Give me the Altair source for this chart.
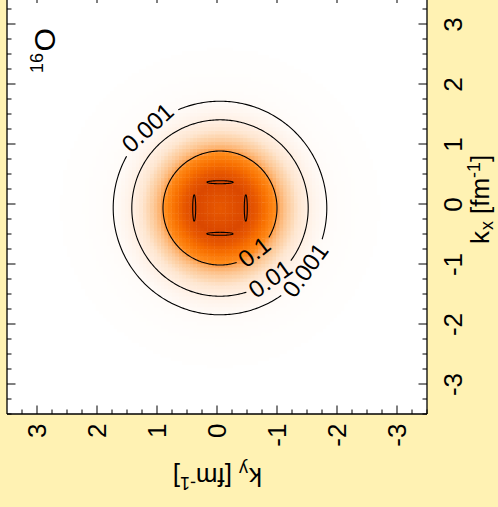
import numpy as np
import pandas as pd
import altair as alt

FONT = "Liberation Sans"

# ---- axis ticks (fm^-1) ----
major_ticks = [-3, -2, -1, 0, 1, 2, 3]
minor_ticks = [-3.5, -3.25, -2.75, -2.5, -2.25, -1.75, -1.5, -1.25, -0.75, -0.5, -0.25,
               0.25, 0.5, 0.75, 1.25, 1.5, 1.75, 2.25, 2.5, 2.75, 3.25]

# ---- radial momentum density of 16O ----
profile_k = [0.0, 0.2, 0.43, 0.6, 0.75, 0.9, 0.95, 1.0, 1.1, 1.3, 1.47, 1.6, 1.78, 2.0, 2.3, 2.65]
profile_rho = [0.190, 0.200, 0.212, 0.190, 0.150, 0.112, 0.100, 0.085, 0.058, 0.022,
               0.010, 0.0055, 0.001, 0.0004, 0.0001, 0.00003]
center_kx, center_ky = -0.067, -0.05
grid_step = 0.06

# ---- contour lines ----
contour_levels = ["0.001", "0.01", "0.1"]
contour_radius = [1.78, 1.47, 0.95]
label_level = ["0.001", "0.1", "0.01", "0.001"]
label_phi = [42.0, 218.0, 215.4, 234.0]      # polar angle in the (kx, ky) plane, degrees
island_phi = [0.0, 90.0, 180.0, 270.0]       # small closed contours near the maximum
island_r = 0.43
island_half_len = 0.22
island_half_wid = 0.025

color_domain = [0, 0.00002, 0.001, 0.01, 0.04, 0.085, 0.1, 0.11, 0.15, 0.19, 0.215]
color_range = ["#ffffff", "#fffefd", "#fffbf8", "#fff0e4", "#fdd7b2", "#fdb06a",
               "#fd9a45", "#ff8a18", "#f87000", "#e85800", "#d84500"]

PX = 60.0          # pixels per fm^-1
W, H = 420, 414
LABEL_SIZE = 24

# ---- heatmap cells ----
n = int(np.ceil(2.7 / grid_step))
idx = np.arange(-n, n + 1)
KX, KY = np.meshgrid(center_kx + idx * grid_step, center_ky + idx * grid_step, indexing="ij")
R = np.hypot(KX - center_kx, KY - center_ky)
RHO = np.interp(R, profile_k, profile_rho, right=0.0)
mask = R <= profile_k[-1]
half = grid_step / 2 + 0.004
heat_df = pd.DataFrame({
    "kx0": (KX[mask] - half), "kx1": (KX[mask] + half),
    "ky0": (KY[mask] - half), "ky1": (KY[mask] + half),
    "rho": RHO[mask],
})

# ---- contour polylines with gaps where labels sit ----
def text_len_px(s):
    return LABEL_SIZE * sum(0.278 if c == "." else 0.556 for c in s)

rows = []
seg_id = 0
for lev, rad in zip(contour_levels, contour_radius):
    gaps = []
    for ll, lp in zip(label_level, label_phi):
        if ll == lev:
            half_w = np.degrees((text_len_px(ll) / 2 + 4) / (rad * PX))
            gaps.append((lp, half_w))
    start = gaps[0][0] if gaps else 0.0
    phis = start + np.arange(0, 360.01, 1.0)
    keep = np.ones(len(phis), bool)
    for gc, gw in gaps:
        d = (phis - gc + 180) % 360 - 180
        keep &= np.abs(d) > gw
    prev = False
    k = 0
    for ph, kp in zip(phis, keep):
        if kp:
            if not prev:
                seg_id += 1
                k = 0
            t = np.radians(ph)
            rows.append({"kx": center_kx + rad * np.cos(t), "ky": center_ky + rad * np.sin(t),
                         "seg": seg_id, "i": k})
            k += 1
        prev = kp

for ip in island_phi:
    seg_id += 1
    t0 = np.radians(ip)
    radial = np.array([np.cos(t0), np.sin(t0)])
    tang = np.array([-np.sin(t0), np.cos(t0)])
    c = np.array([center_kx, center_ky]) + island_r * radial
    for k, t in enumerate(np.radians(np.arange(0, 361, 6))):
        p = c + island_half_len * np.cos(t) * tang + island_half_wid * np.sin(t) * radial
        rows.append({"kx": p[0], "ky": p[1], "seg": seg_id, "i": k})
line_df = pd.DataFrame(rows)

# contour labels, rotated along the curve
lab_rows = []
for ll, lp in zip(label_level, label_phi):
    rad = contour_radius[contour_levels.index(ll)]
    t = np.radians(lp)
    dx, dy = -np.sin(t), -np.cos(t)
    tangent = np.degrees(np.arctan2(dy, dx)) + 90
    tangent = (tangent + 90) % 180 - 90
    lab_rows.append({"kx": center_kx + rad * np.cos(t), "ky": center_ky + rad * np.sin(t),
                     "text": ll, "angle": tangent % 360})
lab_df = pd.DataFrame(lab_rows)

# ---- axis titles and nucleus label, built from pieces (sub/superscripts) ----
title_df = pd.DataFrame([
    # k_y [fm^-1] under the plot, turned upside down
    {"t": "k", "px": 255, "py": 468, "s": 26, "a": 180},
    {"t": "y", "px": 241, "py": 463, "s": 18, "a": 180},
    {"t": "[fm", "px": 225, "py": 468, "s": 26, "a": 180},
    {"t": "-1", "px": 189, "py": 477, "s": 18, "a": 180},
    {"t": "]", "px": 173, "py": 468, "s": 26, "a": 180},
    # k_x [fm^-1] at the right, reading upwards
    {"t": "k", "px": 482, "py": 244, "s": 26, "a": 270},
    {"t": "x", "px": 486, "py": 230, "s": 18, "a": 270},
    {"t": "[fm", "px": 482, "py": 214, "s": 26, "a": 270},
    {"t": "-1", "px": 473, "py": 178, "s": 18, "a": 270},
    {"t": "]", "px": 482, "py": 162, "s": 26, "a": 270},
    # 16O
    {"t": "16", "px": 36, "py": 73, "s": 18, "a": 270},
    {"t": "O", "px": 48, "py": 51.5, "s": 30, "a": 270},
])

XS = alt.Scale(domain=[-3.5, 3.5], reverse=True, nice=False, zero=False)
YS = alt.Scale(domain=[-3.5, 3.4], nice=False, zero=False)

x_axis = alt.Axis(orient="bottom", values=major_ticks, labelAngle=270, labelFontSize=26,
                  labelFont=FONT, labelColor="black", ticks=False, domain=False,
                  grid=False, title=None, labelPadding=9, labelFlush=False,
                  labelOverlap=False, labelExpr="'' + datum.value")
y_axis = alt.Axis(orient="right", values=major_ticks, labelAngle=270, labelFontSize=26,
                  labelFont=FONT, labelColor="black", ticks=False, domain=False,
                  grid=False, title=None, labelPadding=13, labelAlign="center",
                  labelBaseline="top", labelFlush=False, labelOverlap=False,
                  labelExpr="'' + datum.value")


def kx_enc(field):
    return alt.Y(field, type="quantitative", scale=YS, axis=y_axis)


def ky_enc(field):
    return alt.X(field, type="quantitative", scale=XS, axis=x_axis)


heat = alt.Chart(heat_df).mark_rect().encode(
    x=ky_enc("ky0"),
    x2="ky1:Q",
    y=kx_enc("kx0"),
    y2="kx1:Q",
    color=alt.Color("rho:Q", scale=alt.Scale(domain=color_domain, range=color_range,
                                             interpolate="rgb"), legend=None),
)

contours = alt.Chart(line_df).mark_line(color="black", strokeWidth=1.1).encode(
    x=ky_enc("ky"),
    y=kx_enc("kx"),
    detail="seg:N",
    order="i:Q",
)

labels = alt.Chart(lab_df).mark_text(font=FONT, fontSize=LABEL_SIZE, color="black",
                                     align="center", baseline="middle").encode(
    x=ky_enc("ky"),
    y=kx_enc("kx"),
    text="text:N",
    angle=alt.Angle("angle:Q", scale=None),
)

major_df = pd.DataFrame({"v": major_ticks})
minor_df = pd.DataFrame({"v": minor_ticks})
TICK = dict(color="black", strokeWidth=1)


def vticks(df, y0, y1):
    return alt.Chart(df).mark_rule(**TICK).encode(
        x=ky_enc("v"), y=alt.value(y0), y2=alt.value(y1))


def hticks(df, x0, x1):
    return alt.Chart(df).mark_rule(**TICK).encode(
        y=kx_enc("v"), x=alt.value(x0), x2=alt.value(x1))


ticks = [
    vticks(major_df, H, H - 8.5), vticks(minor_df, H, H - 4.5),   # bottom
    vticks(major_df, 0, 3),                                        # top
    hticks(major_df, 0, 8.5), hticks(minor_df, 0, 4.5),            # left
    hticks(major_df, W, W - 8.5), hticks(minor_df, W, W - 4.5),    # right
]

one = pd.DataFrame({"a": [0]})
FRAME = dict(color="black", strokeWidth=1.3)
frame = [
    alt.Chart(one).mark_rule(**FRAME).encode(x=alt.value(0), y=alt.value(0), y2=alt.value(H)),
    alt.Chart(one).mark_rule(**FRAME).encode(x=alt.value(W), y=alt.value(0), y2=alt.value(H)),
    alt.Chart(one).mark_rule(**FRAME).encode(x=alt.value(0), x2=alt.value(W), y=alt.value(H)),
]

# text pieces are positioned in pixels via x/y taken straight from the table
titles = alt.Chart(title_df).mark_text(font=FONT, color="black", align="left",
                                       baseline="alphabetic").encode(
    x=alt.X("px:Q", scale=None, axis=None),
    y=alt.Y("py:Q", scale=None, axis=None),
    text="t:N",
    size=alt.Size("s:Q", scale=None, legend=None),
    angle=alt.Angle("a:Q", scale=None),
)

chart = alt.layer(heat, contours, labels, *ticks, *frame, titles).properties(
    width=W, height=H,
    padding={"left": 7, "top": 0, "right": 498 - 7 - W, "bottom": 507 - H},
    autosize=alt.AutoSizeParams(type="none"),
    background="#FFF2B3",
).configure_view(stroke=None, fill="white")

chart.save("out.html", embed_options={"renderer": "svg", "actions": False})
